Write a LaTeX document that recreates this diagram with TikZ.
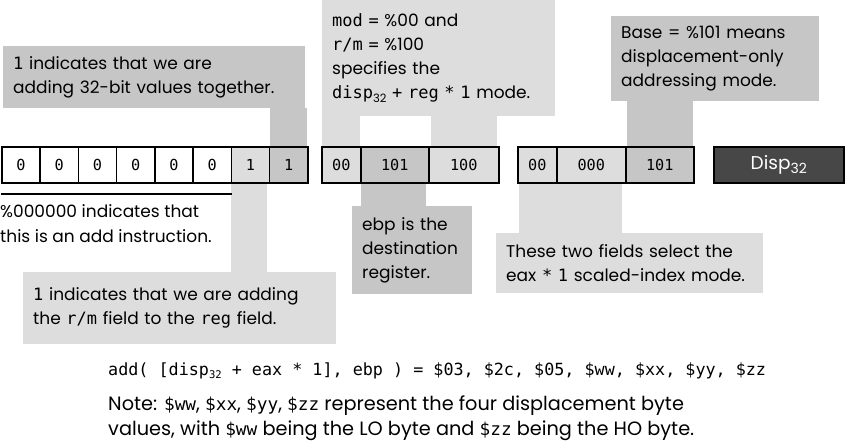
\documentclass[tikz,border=0pt]{standalone}
\usepackage{fontspec}
\setmainfont{Poppins}
\setmonofont[Scale=0.92]{DejaVu Sans Mono}
\newfontfamily\condsans{Poppins}
\newfontfamily\condmono[Scale=0.92]{DejaVu Sans Mono}
\newfontfamily\cmono{DejaVu Sans Mono}
\newcommand\ctt[1]{{\cmono #1}}
\usetikzlibrary{backgrounds}
\definecolor{medgray}{HTML}{C6C6C6}
\definecolor{ltgray}{HTML}{DDDDDD}
\definecolor{darkbox}{HTML}{474747}
\newcommand\lowsub[1]{\raisebox{-0.35ex}{\fontsize{11.5}{11.5}\selectfont #1}}
\begin{document}
\begin{tikzpicture}[x=1pt,y=-1pt,
  field/.style={draw=black, line width=1.5pt, minimum height=36pt, inner sep=0pt,
    font=\fontsize{16.5}{16.5}\ttfamily, anchor=west},
  callout/.style={anchor=north west, align=left, inner xsep=10pt, inner ysep=0pt,
    font=\fontsize{17}{24}\selectfont},
  plain/.style={anchor=north west, align=left, inner sep=0pt, font=\fontsize{17}{25}\selectfont}]
\useasboundingbox (0,0) rectangle (845,444);
% callouts
\node[callout, fill=medgray, text width=282pt, minimum height=62pt] (c1) at (3,46)
  {\ctt{1} indicates that we are\\adding 32-bit values together.};
\node[callout, fill=ltgray, text width=213pt, minimum height=116pt] (c2) at (322,0)
  {\ctt{mod =} \%00 and\\\ctt{r/m =} \%100\\specifies the\\\ctt{disp}\lowsub{32} \ctt{+ reg * 1} mode.};
\node[callout, fill=medgray, text width=188pt, minimum height=85pt] (c3) at (611,16)
  {Base = \%101 means\\displacement-only\\addressing mode.};
\node[callout, fill=ltgray, text width=293pt, minimum height=72pt] (c4) at (23,272)
  {\ctt{1} indicates that we are adding\\the \ctt{r/m} field to the \ctt{reg} field.};
\node[callout, fill=medgray, text width=100pt, minimum height=88pt] (c5) at (352,206)
  {ebp is the\\destination\\register.};
\node[callout, fill=ltgray, text width=247pt, minimum height=60pt] (c6) at (496,233)
  {These two fields select the\\eax \ctt{* 1} scaled-index mode.};
% fields
\foreach \i/\v/\c in {1/0/white,2/0/white,3/0/white,4/0/white,5/0/white,6/0/white,7/1/ltgray,8/1/medgray}
  \node[field, fill=\c, minimum width=38.25pt] (b\i) at ({1+38.25*(\i-1)},165) {\v};
\node[field, fill=ltgray, minimum width=39pt] (g2a) at (321,165) {00};
\node[field, fill=medgray, minimum width=68pt] (g2b) at (360,165) {101};
\node[field, fill=ltgray, minimum width=70pt] (g2c) at (428,165) {100};
\node[field, fill=ltgray, minimum width=39pt] (g3a) at (517,165) {00};
\node[field, fill=ltgray, minimum width=69pt] (g3b) at (556,165) {000};
\node[field, fill=medgray, minimum width=68pt] (g3c) at (625,165) {101};
\node[field, fill=darkbox, minimum width=130pt, text=white, font=\fontsize{18.5}{18.5}\selectfont] (disp) at (713,165) {Disp{\raisebox{-0.35ex}{\fontsize{14}{14}\selectfont 32}}};
% stems
\begin{scope}[on background layer]
  \fill[medgray] ([xshift=1pt]b8.north west) rectangle ([xshift=-2pt]b8.east |- c1.south);
  \fill[ltgray] ([xshift=1pt]g2a.north west) rectangle ([xshift=-2pt]g2a.east |- c2.south);
  \fill[ltgray] ([xshift=3pt]g2c.north west) rectangle ([xshift=-3pt]g2c.east |- c2.south);
  \fill[medgray] ([xshift=2pt]g3c.north west) rectangle ([xshift=-2pt]g3c.east |- c3.south);
  \fill[ltgray] (b7.south west) rectangle ([xshift=-3pt]b7.east |- c4.north);
  \fill[medgray] ([xshift=1pt]g2b.south west) rectangle ([xshift=-4pt]g2b.east |- c5.north);
  \fill[ltgray] ([xshift=2pt]g3a.south west) rectangle ([xshift=-5pt]g3b.east |- c6.north);
\end{scope}
% underline and plain text
\draw[line width=2pt] ([yshift=-10pt]b1.south west) -- ([yshift=-10pt]b6.south east);
\node[plain] (t0) at (0,204) {\%000000 indicates that\\this is an add instruction.};
\node[anchor=west, inner sep=0pt, font=\fontsize{18.2}{18.2}\ttfamily] (code) at (108,371)
  {add( [disp\lowsub{32} + eax * 1], ebp ) = \$03, \$2c, \$05, \$ww, \$xx, \$yy, \$zz};
\node[anchor=north west, align=left, inner sep=0pt, font=\fontsize{19.3}{24.5}\condsans] (note) at (108,396)
  {Note: {\condmono\$ww}, {\condmono\$xx}, {\condmono\$yy}, {\condmono\$zz} represent the four displacement byte\\values, with {\condmono\$ww} being the LO byte and {\condmono\$zz} being the HO byte.};
\end{tikzpicture}
\end{document}
